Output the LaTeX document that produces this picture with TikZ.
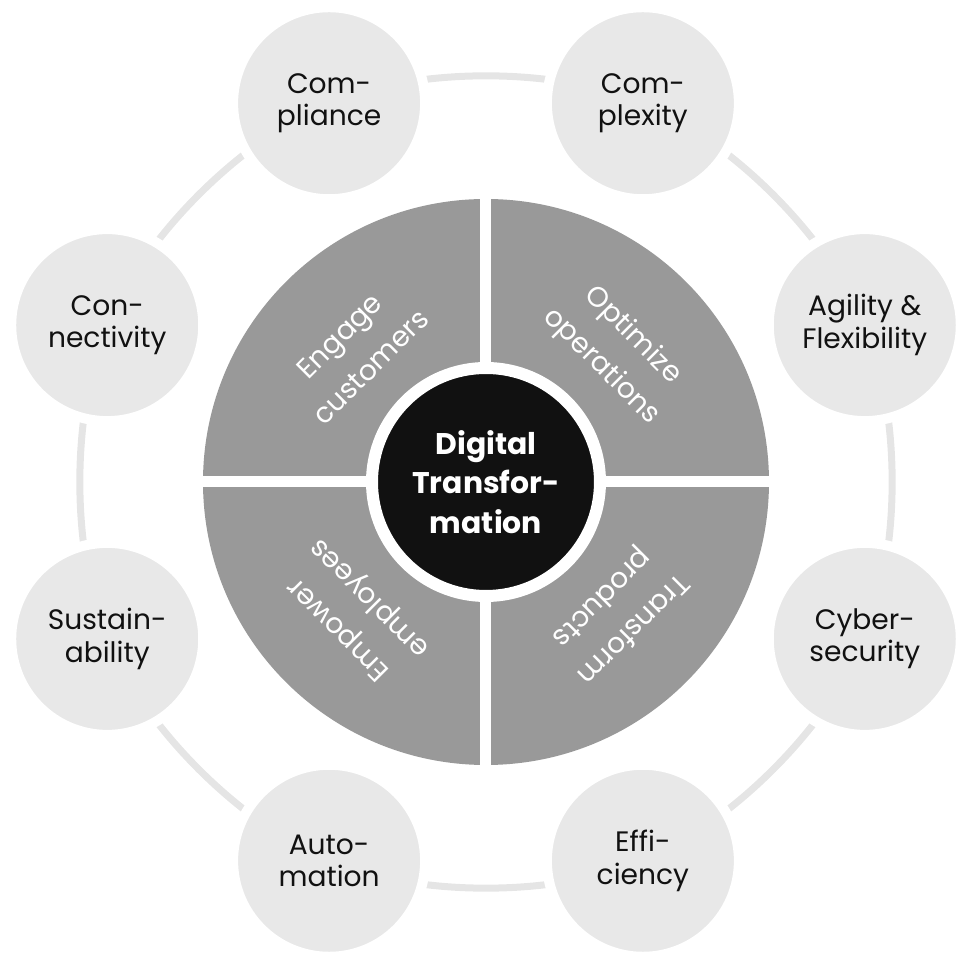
\documentclass[tikz,border=0pt]{standalone}
\usepackage{fontspec}
\setmainfont{Poppins}
\usepackage{xcolor}
\definecolor{discgray}{RGB}{153,153,153}
\definecolor{bubblegray}{RGB}{232,232,232}
\definecolor{ringgray}{RGB}{229,229,229}
\definecolor{coreblack}{RGB}{17,17,17}
\usepackage{tikz}
\usetikzlibrary{backgrounds}
\tikzset{
  bubble/.style={circle, fill=bubblegray, draw=white, line width=0.2cm,
    minimum size=3.84cm, inner sep=0pt, align=center, text=coreblack,
    font=\fontsize{16}{18.5}\selectfont},
  sector/.style={align=center, text=white, inner sep=0pt,
    font=\fontsize{16}{25}\selectfont},
  ringarc/.style={draw=ringgray, line width=0.14cm,
    bend right=22.5, looseness=0.78},
}

\begin{document}
\begin{tikzpicture}[
  core/.style={circle, fill=coreblack, draw=white, line width=0.24cm,
    minimum size=4.56cm, inner sep=0pt, align=center, text=white,
    font=\fontsize{17}{22.5}\selectfont\bfseries},
  gap/.style={white, line width=0.22cm}
]
  \useasboundingbox (-9.72,-9.62) rectangle (9.78,9.64);

  % Central disc split into four sectors
  \fill[discgray] (0,0) circle (5.66);
  \draw[gap] (-5.8,0) -- (5.8,0);
  \draw[gap] (0,-5.8) -- (0,5.8);
  \node[core] (dt) at (0,0) {Digital\\Transfor-\\mation};

  \node[sector, rotate=45] (eng) at (135:3.7) {Engage\\customers};
  \node[sector, rotate=-45] (opt) at (45:3.7) {Optimize\\operations};
  \node[sector, rotate=-135] (trf) at (-45:3.7) {Transform\\products};
  \node[sector, rotate=135] (emp) at (-135:3.7) {Empower\\employees};

  % Outer ring
  \node[bubble] (agi) at (22.5:8.2) {Agility \&\\Flexibility};
  \node[bubble] (cpx) at (67.5:8.2) {Com-\\plexity};
  \node[bubble] (cpl) at (112.5:8.2) {Com-\\pliance};
  \node[bubble] (con) at (157.5:8.2) {Con-\\nectivity};
  \node[bubble] (sus) at (202.5:8.2) {Sustain-\\ability};
  \node[bubble] (aut) at (247.5:8.2) {Auto-\\mation};
  \node[bubble] (eff) at (292.5:8.2) {Effi-\\ciency};
  \node[bubble] (cyb) at (337.5:8.2) {Cyber-\\security};

  % Arcs between neighbours, hidden under the white rims
  \begin{scope}[on background layer]
    \draw[ringarc] (agi.center) to (cpx.center);
    \draw[ringarc] (cpx.center) to (cpl.center);
    \draw[ringarc] (cpl.center) to (con.center);
    \draw[ringarc] (con.center) to (sus.center);
    \draw[ringarc] (sus.center) to (aut.center);
    \draw[ringarc] (aut.center) to (eff.center);
    \draw[ringarc] (eff.center) to (cyb.center);
    \draw[ringarc] (cyb.center) to (agi.center);
  \end{scope}
\end{tikzpicture}
\end{document}
